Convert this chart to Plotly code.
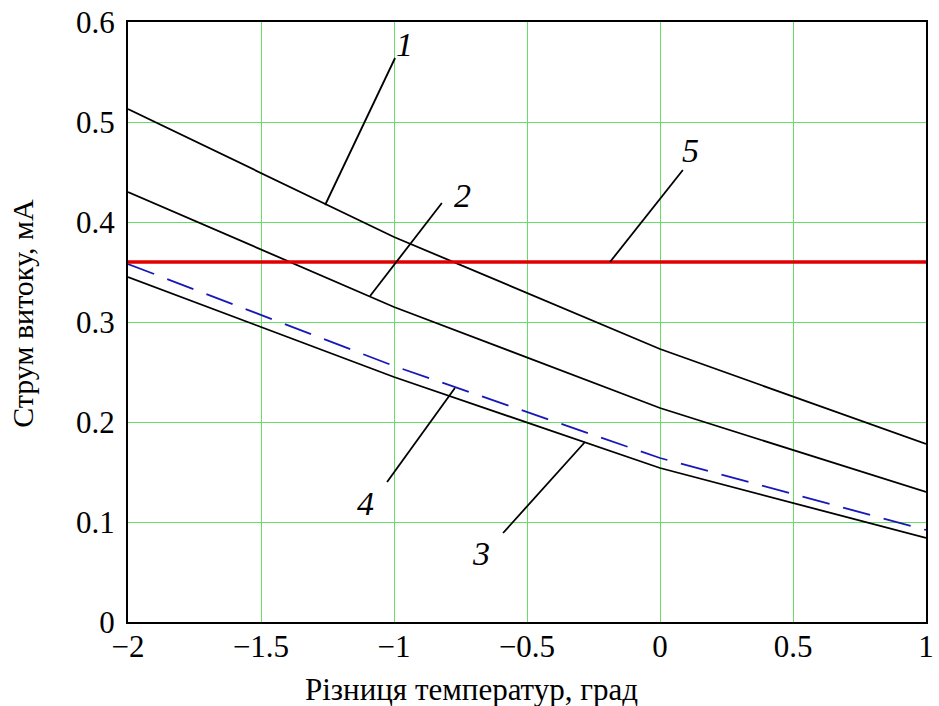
import plotly.graph_objects as go

# Data
x_vals = [-2, -1, 0, 1]
curve1 = [0.513, 0.385, 0.273, 0.178]
curve2 = [0.430, 0.315, 0.214, 0.130]
curve3 = [0.345, 0.245, 0.154, 0.084]
curve4 = [0.358, 0.256, 0.164, 0.092]
curve5 = [0.36, 0.36, 0.36, 0.36]

x_ticks = [-2, -1.5, -1, -0.5, 0, 0.5, 1]
y_ticks = [0, 0.1, 0.2, 0.3, 0.4, 0.5, 0.6]

# leader lines: (x0, y0, x1, y1, label, label_x, label_y)
labels = [
    (-1.259, 0.417, -0.996, 0.564, "1", -0.962, 0.578),
    (-1.090, 0.326, -0.820, 0.419, "2", -0.744, 0.427),
    (-0.282, 0.180, -0.590, 0.089, "3", -0.673, 0.069),
    (-0.771, 0.234, -1.026, 0.140, "4", -1.109, 0.119),
    (-0.188, 0.360, 0.086, 0.452, "5", 0.113, 0.472),
]

x_title = "Різниця температур, град"
y_title = "Струм витоку, мА"

SERIF = "Liberation Serif"

fig = go.Figure()
fig.add_trace(go.Scatter(x=x_vals, y=curve1, mode="lines", line=dict(color="black", width=1.8)))
fig.add_trace(go.Scatter(x=x_vals, y=curve2, mode="lines", line=dict(color="black", width=1.8)))
fig.add_trace(go.Scatter(x=x_vals, y=curve3, mode="lines", line=dict(color="black", width=1.8)))
fig.add_trace(go.Scatter(x=x_vals, y=curve4, mode="lines", line=dict(color="#1818B8", width=1.8, dash="28px,14px")))
fig.add_trace(go.Scatter(x=x_vals, y=curve5, mode="lines", line=dict(color="#E00000", width=3.5)))

for x0, y0, x1, y1, t, lx, ly in labels:
    fig.add_shape(type="line", x0=x0, y0=y0, x1=x1, y1=y1, xref="x", yref="y",
                  line=dict(color="black", width=1.8))
    fig.add_annotation(x=lx, y=ly, text="<i>%s</i>" % t, showarrow=False, xref="x", yref="y",
                       font=dict(family=SERIF, size=34, color="black"))

# axis titles (placed as in the reference, x title slightly left of centre)
fig.add_annotation(x=0.431, y=-0.113, xref="paper", yref="paper", text=x_title, showarrow=False,
                   xanchor="center", yanchor="middle", font=dict(family=SERIF, size=31, color="black"))
fig.add_annotation(x=-0.133, y=0.515, xref="paper", yref="paper", text=y_title, showarrow=False,
                   textangle=-90, xanchor="center", yanchor="middle",
                   font=dict(family=SERIF, size=30, color="black"))

fig.update_layout(
    width=939, height=706,
    margin=dict(l=128, r=13, t=22, b=84),
    paper_bgcolor="white", plot_bgcolor="white",
    showlegend=False,
    font=dict(family=SERIF, color="black"),
)
fig.update_xaxes(
    range=[-2, 1], tickvals=x_ticks, ticktext=["\u22122", "\u22121.5", "\u22121", "\u22120.5", "0", "0.5", "1"],
    showgrid=True, gridcolor="#66DD66", gridwidth=1,
    showline=True, linecolor="black", linewidth=2, mirror=True,
    zeroline=False, ticks="", tickfont=dict(family=SERIF, size=31), automargin=False,
    ticklabelstandoff=-4, ticklabeloverflow="allow",
)
fig.update_yaxes(
    range=[0, 0.6], tickvals=y_ticks, ticktext=["0", "0.1", "0.2", "0.3", "0.4", "0.5", "0.6"],
    showgrid=True, gridcolor="#66DD66", gridwidth=1,
    showline=True, linecolor="black", linewidth=2, mirror=True,
    zeroline=False, ticks="", tickfont=dict(family=SERIF, size=31), automargin=False,
    ticklabelstandoff=5, ticklabeloverflow="allow",
)

fig.write_html("out.html", post_script="document.body.style.margin='0px';",
               config={"displayModeBar": False})
